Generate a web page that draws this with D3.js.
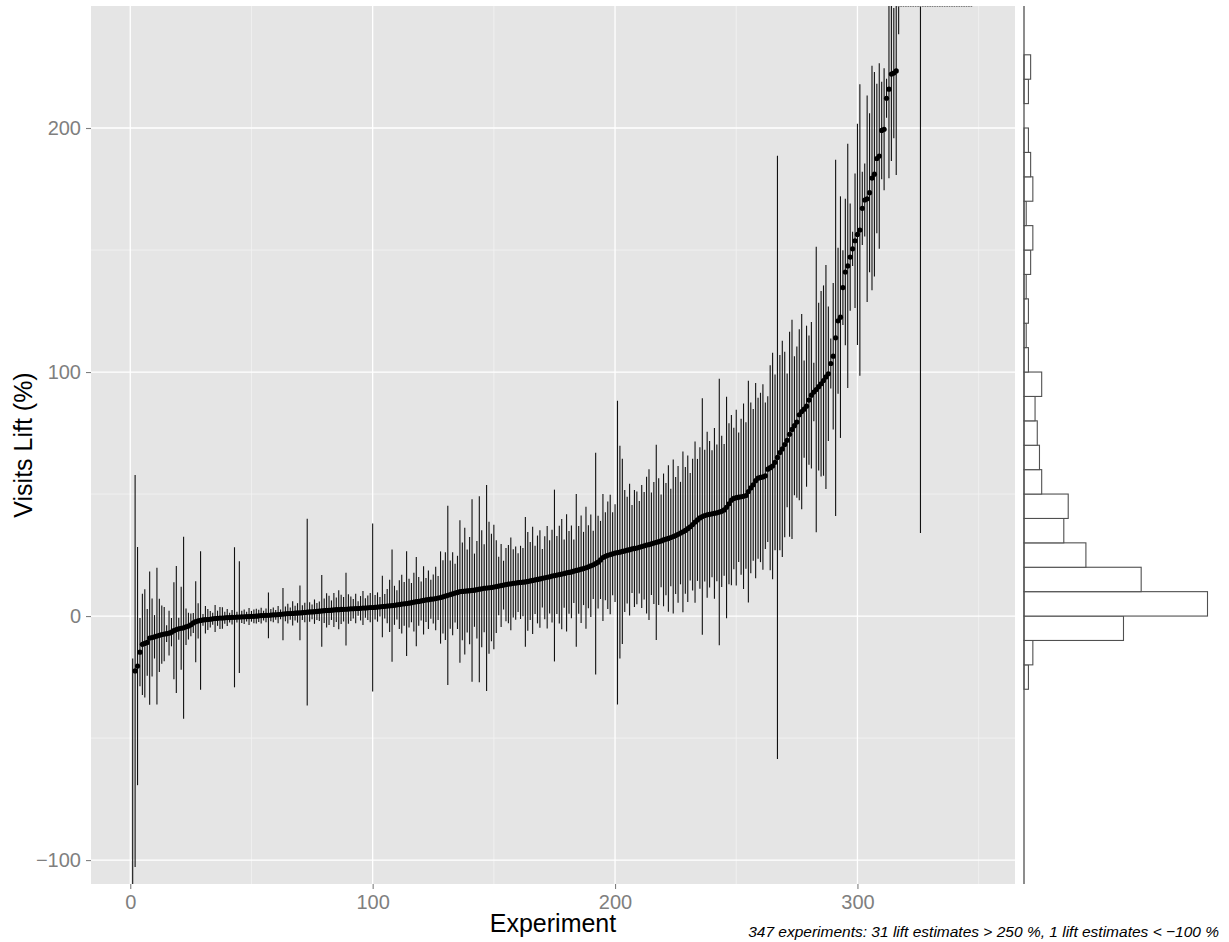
<!DOCTYPE html>
<html>
<head>
<meta charset="utf-8">
<script src="https://cdn.jsdelivr.net/npm/d3@7"></script>
<style>
body { margin: 0; background: #fff; }
text { font-family: "Liberation Sans", Arial, Helvetica, sans-serif; }
</style>
</head>
<body>
<script>
var width = 1229,
    height = 942;

// lift point estimates (%), experiments already sorted by estimate (x = 1..347)
var estimate = [
  -150, -22.5, -20.5, -14.8, -11.6, -11.2, -10.8,
  -9.0, -8.8, -8.5, -8.2, -7.9, -7.6, -7.4, -7.2, -7.0, -6.6, -6.0, -5.5, -5.2, -5.0,
  -4.8, -4.4, -4.1, -3.6, -2.8, -2.3, -2.0, -1.8, -1.6, -1.5, -1.4, -1.3, -1.1, -1.0,
  -0.9, -0.8, -0.8, -0.7, -0.6, -0.6, -0.5, -0.5, -0.4, -0.4, -0.3, -0.3, -0.2, -0.2,
  -0.1, -0.1, -0.05,
  0.1, 0.2, 0.2, 0.3, 0.3, 0.4, 0.5, 0.5, 0.6, 0.7,
  0.8, 0.9, 1.0, 1.0, 1.1, 1.2, 1.3, 1.3, 1.4, 1.5,
  1.6, 1.7, 1.7, 1.8, 1.9, 2.0, 2.1, 2.2, 2.3, 2.3,
  2.4, 2.5, 2.6, 2.6, 2.7, 2.8, 2.8, 2.9, 3.0, 3.0,
  3.1, 3.1, 3.2, 3.3, 3.3, 3.4, 3.5, 3.5, 3.6, 3.7,
  3.8, 3.9, 4.0, 4.1, 4.2, 4.3, 4.4, 4.6, 4.7, 4.9,
  5.0, 5.1, 5.3, 5.5, 5.7, 5.9, 6.0, 6.2, 6.4, 6.6,
  6.7, 6.9, 7.0, 7.2, 7.4, 7.6, 7.9, 8.2, 8.5, 8.8,
  9.1, 9.4, 9.7,
  10.05, 10.1, 10.2, 10.3, 10.4, 10.5, 10.6, 10.8, 11.0, 11.2,
  11.4, 11.5, 11.6, 11.7, 11.9, 12.1, 12.3, 12.5, 12.7, 12.9,
  13.1, 13.2, 13.4, 13.5, 13.7, 13.8, 13.9, 14.0, 14.2, 14.4,
  14.6, 14.8, 15.0, 15.2, 15.5, 15.7, 15.9, 16.1, 16.4, 16.6,
  16.8, 17.0, 17.2, 17.4, 17.7, 17.9, 18.1, 18.4, 18.7, 18.9,
  19.2, 19.5, 19.8,
  20.2, 20.6, 21.0, 21.5, 22.1, 23.0, 24.0, 24.5, 24.9, 25.2,
  25.5, 25.8, 26.0, 26.2, 26.5, 26.7, 27.0, 27.2, 27.5, 27.7,
  27.9, 28.2, 28.5, 28.8, 29.1, 29.3, 29.6, 29.9,
  30.2, 30.5, 30.8, 31.2, 31.5, 31.8, 32.2, 32.6, 33.0, 33.5,
  34.0, 34.5, 35.1, 35.8, 36.6, 37.5, 38.5, 39.4,
  40.2, 40.8, 41.2, 41.5, 41.7, 41.9, 42.1, 42.3, 42.6, 42.9,
  43.5, 44.5, 46.0, 47.5, 48.2, 48.5, 48.7, 48.9, 49.1, 49.4,
  51.0, 52.5, 53.8, 55.5, 56.5, 56.8, 57.0, 57.5,
  60.2, 60.8, 61.5, 63.0, 65.0, 67.0, 68.5,
  70.3, 72.0, 74.5, 76.5, 78.0, 79.5,
  82.5, 83.8, 84.8, 86.0, 88.5,
  90.5, 91.8, 92.8, 94.0, 95.2, 96.5, 98.0, 99.3,
  103.5, 106.5, 114.0, 121.0, 122.5, 134.6, 141.0, 143.5, 147.1,
  150.5, 153.8, 156.4, 158.2, 167.1, 170.5, 171.0, 173.5, 179.5,
  181.1, 187.5, 188.5, 199.0, 199.5, 212.2, 215.9, 222.1, 222.5, 223.4,
  262, 268, 275, 283, 290, 298, 310, 322, 335, 350,
  365, 380, 400, 420, 440, 465, 490, 520, 550, 590,
  630, 680, 740, 800, 880, 960, 1050, 1200, 1400, 1700, 2200
];

// half width of each experiment's interval (%), same order
var halfWidth = [
  132.6, 80.3, 48.8, 14, 20.7, 22.2, 13.7, 27.3, 16, 8.9,
  28, 15, 11.9, 11.1, 3.4, 9.2, 5.8, 19.9, 26, 4.5,
  17, 37.3, 7.5, 5.5, 4.7, 4.1, 16.6, 7.2, 28.4, 2.4,
  5.6, 4.3, 3.4, 2.5, 5.5, 3.1, 4.5, 4.4, 2.5, 3.5,
  2, 3, 28.7, 2.2, 22.9,
  2.5, 3, 2, 3.5, 2.2, 2.8, 3, 2.5, 3.2, 2, 2.8,
  9.4, 2.5, 3, 2, 3.5, 2,
  10.7, 3, 4, 2.5, 5, 3, 4,
  11.2, 3, 4, 38.3, 4, 3, 5, 3.5, 4,
  14.7, 5, 7, 6, 4, 7, 5, 8, 6, 5,
  14.9, 6, 5, 4, 6, 3, 5, 7, 4, 5, 6,
  34.4, 5, 6, 4, 12.6, 5, 7, 10.7, 23,
  8, 6, 10, 12, 9,
  21.5, 10, 8, 12, 18.3,
  10, 8, 14, 9, 12, 8, 10, 13, 9,
  18.9, 15, 18, 36.7, 14, 17, 12, 15,
  29.2, 20, 26, 17, 22, 37.4, 15, 20, 38.1, 24, 18, 42.2, 27, 22, 25.5,
  19, 12, 17, 10, 15, 16, 19, 14, 15, 12, 15, 14,
  26.6,
  20.2, 16, 22, 14, 18, 20, 12, 17, 21, 15, 19, 35.2, 16, 20, 22.6, 14, 24, 17, 19,
  13, 31.3, 18, 22, 15, 25, 17, 21, 14, 45.4, 19, 16, 26, 18, 22, 24.5, 17, 20,
  62.2, 43.6, 38, 25, 21.9, 27, 18, 24, 23.1, 19, 25.2, 22, 28, 30.9, 21, 25,
  40, 26, 19, 27.2, 23, 30, 20, 31.6, 24, 28, 21, 32.9, 26, 30, 22, 27, 33, 25,
  29, 48.5, 27, 34, 30, 26, 35, 28, 54.6, 31, 27, 45.4, 33, 34.9, 29, 36, 26.5, 32, 38, 30,
  45.4, 35, 31.1, 40, 33, 34.7, 38, 30, 29.9, 42, 46.4, 36, 123.6, 40, 44.3, 38,
  27.4, 42, 44.9, 28.5, 31, 35, 40, 19.9, 33, 26.5, 30, 12, 58.5, 34.4, 38, 39, 45.9, 27.6, 10.2, 30,
  73, 29.9, 49.5, 15.3, 30, 50, 22, 7, 27.6, 45.3, 59.7, 15, 15, 42.3, 32.6, 46, 41.9, 30.6, 38, 20,
  25, 8, 36.5, 35.6, 26.7, 42.7,
  23.6, 12, 18, 25, 30, 35, 45, 50, 60, 316,
  80, 90, 100, 110, 120, 130, 140, 150, 160, 180,
  200, 220, 240, 260, 280, 300, 320, 340, 360, 380, 400
];

var xTicks = [0, 100, 200, 300],
    xMinor = [50, 150, 250, 350],
    yTicks = [-100, 0, 100, 200],
    yMinor = [-50, 50, 150],
    histBreaks = [-30, -20, -10, 0, 10, 20, 30, 40, 50, 60, 70, 80, 90, 100, 110,
                  120, 130, 140, 150, 160, 170, 180, 190, 200, 210, 220, 230],
    yCap = 250,
    yFloor = -100;

var panel = { left: 91, right: 1015, top: 6, bottom: 884 },
    histLeft = 1024,
    histRight = 1207.5;

var data = estimate.map(function(d, i) {
    return { i: i + 1, est: d, lo: d - halfWidth[i], hi: d + halfWidth[i] };
});

var svg = d3.select("body").append("svg")
    .attr("width", width)
    .attr("height", height)
    .style("background", "#fff");

var x = d3.scaleLinear().domain([-16.2, 365]).range([panel.left, panel.right]),
    y = d3.scaleLinear().domain([-109.8, yCap]).range([panel.bottom, panel.top]);

svg.append("defs").append("clipPath")
    .attr("id", "clip")
  .append("rect")
    .attr("x", panel.left)
    .attr("y", panel.top)
    .attr("width", panel.right - panel.left)
    .attr("height", panel.bottom - panel.top);

svg.append("rect")
    .attr("x", panel.left)
    .attr("y", panel.top)
    .attr("width", panel.right - panel.left)
    .attr("height", panel.bottom - panel.top)
    .attr("fill", "#e5e5e5");

// grid
svg.selectAll("line.xminor").data(xMinor).enter().append("line")
    .attr("x1", x).attr("x2", x)
    .attr("y1", panel.top).attr("y2", panel.bottom)
    .attr("stroke", "#f2f2f2").attr("stroke-width", 0.8);
svg.selectAll("line.yminor").data(yMinor).enter().append("line")
    .attr("y1", y).attr("y2", y)
    .attr("x1", panel.left).attr("x2", panel.right)
    .attr("stroke", "#f2f2f2").attr("stroke-width", 0.8);
svg.selectAll("line.xmajor").data(xTicks).enter().append("line")
    .attr("x1", x).attr("x2", x)
    .attr("y1", panel.top).attr("y2", panel.bottom)
    .attr("stroke", "#fff").attr("stroke-width", 1.3);
svg.selectAll("line.ymajor").data(yTicks).enter().append("line")
    .attr("y1", y).attr("y2", y)
    .attr("x1", panel.left).attr("x2", panel.right)
    .attr("stroke", "#fff").attr("stroke-width", 1.3);

var g = svg.append("g").attr("clip-path", "url(#clip)");

g.selectAll("line.range")
    .data(data)
    .enter().append("line")
    .attr("x1", function(d) { return x(d.i); })
    .attr("x2", function(d) { return x(d.i); })
    .attr("y1", function(d) { return y(Math.max(d.lo, -400)); })
    .attr("y2", function(d) { return y(Math.min(d.hi, 600)); })
    .attr("stroke", "#111")
    .attr("stroke-width", 1.1);

// estimates above the cap are squished onto the top edge
g.selectAll("circle")
    .data(data.filter(function(d) { return d.est > y.domain()[0]; }))
    .enter().append("circle")
    .attr("cx", function(d) { return x(d.i); })
    .attr("cy", function(d) { return y(Math.min(d.est, yCap)); })
    .attr("r", function(d) { return d.est > yCap ? 1 : 2.6; })
    .attr("fill", function(d) { return d.est > yCap ? "#777" : "#000"; });

// axes
var xAxis = svg.append("g")
    .attr("transform", "translate(0," + panel.bottom + ")")
    .call(d3.axisBottom(x).tickValues(xTicks).tickSize(5).tickPadding(6));
var yAxis = svg.append("g")
    .attr("transform", "translate(" + panel.left + ",0)")
    .call(d3.axisLeft(y).tickValues(yTicks).tickSize(5).tickPadding(5));

[xAxis, yAxis].forEach(function(a) {
    a.select(".domain").remove();
    a.selectAll(".tick line").attr("stroke", "#7f7f7f").attr("stroke-width", 1.1);
    a.selectAll(".tick text")
        .attr("fill", "#7f7f7f")
        .style("font-size", "20px")
        .style("font-family", "'Liberation Sans', Arial, sans-serif");
});

svg.append("text")
    .attr("x", (panel.left + panel.right) / 2)
    .attr("y", 932)
    .attr("text-anchor", "middle")
    .style("font-size", "25px")
    .text("Experiment");

svg.append("text")
    .attr("transform", "translate(32," + (panel.top + panel.bottom) / 2 + ")rotate(-90)")
    .attr("text-anchor", "middle")
    .style("font-size", "25px")
    .text("Visits Lift (%)");

// marginal histogram of the estimates
var bins = d3.bin()
    .domain([histBreaks[0], histBreaks[histBreaks.length - 1]])
    .thresholds(histBreaks.slice(1, -1))
    (estimate);

var h = d3.scaleLinear()
    .domain([0, d3.max(bins, function(b) { return b.length; })])
    .range([histLeft, histRight]);

svg.selectAll("rect.bin")
    .data(bins)
    .enter().append("rect")
    .attr("x", h(0))
    .attr("y", function(b) { return y(b.x1); })
    .attr("width", function(b) { return h(b.length) - h(0); })
    .attr("height", function(b) { return y(b.x0) - y(b.x1); })
    .attr("fill", "#fff")
    .attr("stroke", "#505050")
    .attr("stroke-width", 1.1);

svg.append("line")
    .attr("x1", histLeft).attr("x2", histLeft)
    .attr("y1", panel.top).attr("y2", panel.bottom)
    .attr("stroke", "#505050")
    .attr("stroke-width", 1.3);

var nHigh = estimate.filter(function(d) { return d > yCap; }).length,
    nLow = estimate.filter(function(d) { return d < yFloor; }).length;

svg.append("text")
    .attr("x", 1219)
    .attr("y", 937)
    .attr("text-anchor", "end")
    .style("font-size", "15.5px")
    .style("font-style", "italic")
    .text(estimate.length + " experiments: " + nHigh + " lift estimates > " + yCap +
          " %, " + nLow + " lift estimates < \u2212" + Math.abs(yFloor) + " %");
</script>
</body>
</html>
